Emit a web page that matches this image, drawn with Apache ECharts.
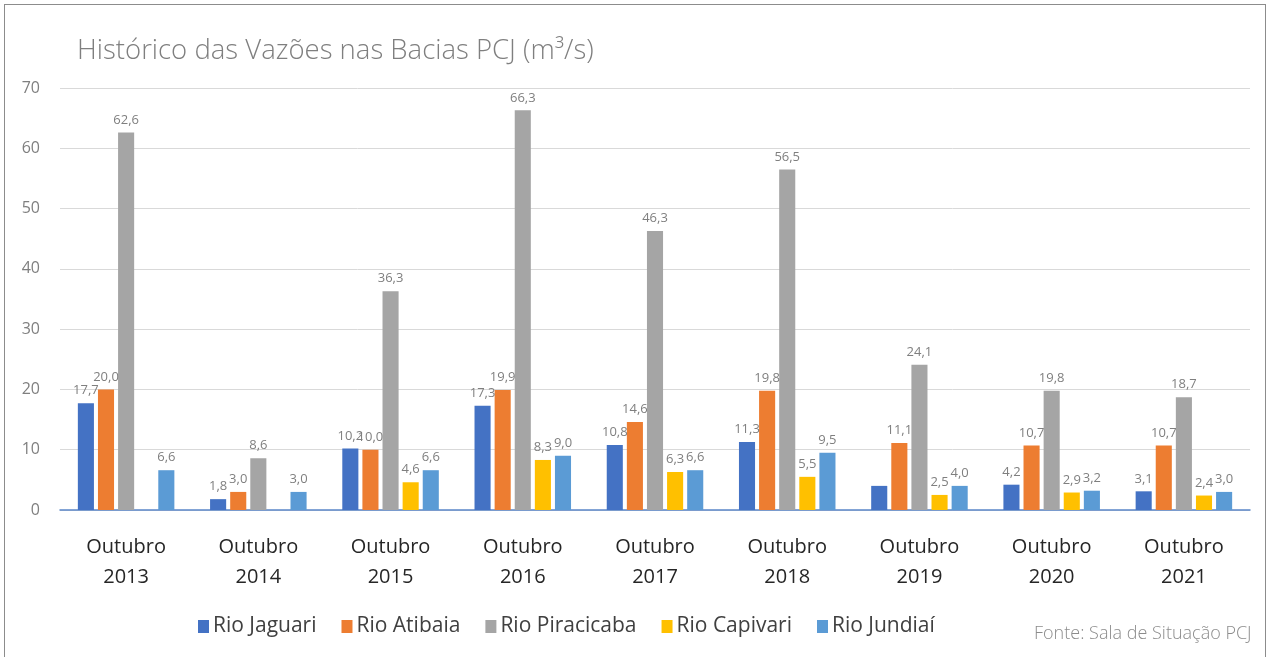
<!DOCTYPE html>
<html>
<head>
<meta charset="utf-8">
<script src="https://cdn.jsdelivr.net/npm/echarts@6/dist/echarts.min.js"></script>
<style>
  html, body { margin: 0; padding: 0; background: #fff; }
  #frame { position: absolute; left: 4px; top: 4px; width: 1262px; height: 660px; border: 1.5px solid #8c8c8c; box-sizing: border-box; }
  #chart { position: absolute; left: 0; top: 0; width: 1272px; height: 657px; }
</style>
</head>
<body>
<div id="frame"></div>
<div id="chart"></div>
<script>
const categories = ['Outubro\n2013', 'Outubro\n2014', 'Outubro\n2015', 'Outubro\n2016', 'Outubro\n2017',
  'Outubro\n2018', 'Outubro\n2019', 'Outubro\n2020', 'Outubro\n2021']
const jaguari = [17.7, 1.8, 10.2, 17.3, 10.8, 11.3, 4.0, 4.2, 3.1]
const atibaia = [20.0, 3.0, 10.0, 19.9, 14.6, 19.8, 11.1, 10.7, 10.7]
const piracicaba = [62.6, 8.6, 36.3, 66.3, 46.3, 56.5, 24.1, 19.8, 18.7]
const capivari = [null, null, 4.6, 8.3, 6.3, 5.5, 2.5, 2.9, 2.4]
const jundiai = [6.6, 3.0, 6.6, 9.0, 6.6, 9.5, 4.0, 3.2, 3.0]
// 2019 Jaguari has no label in the original
const hiddenLabels = { 'Rio Jaguari': [6] }

const font = '"Open Sans", "Noto Sans", sans-serif'

function makeSeries(name, data, color) {
  const hide = hiddenLabels[name] || []
  return {
    name: name,
    type: 'bar',
    data: data.map((v, i) => hide.indexOf(i) >= 0 ? { value: v, label: { show: false } } : v),
    itemStyle: { color: color },
    barGap: '25%',
    barCategoryGap: '27%',
    label: {
      show: true,
      position: 'top',
      distance: 6,
      color: '#7f7f7f',
      fontFamily: font,
      fontSize: 13,
      formatter: p => p.value == null ? '' : p.value.toFixed(1).replace('.', ',')
    }
  }
}

const chart = echarts.init(document.getElementById('chart'))
chart.setOption({
  animation: false,
  title: [{
    text: 'Histórico das Vazões nas Bacias PCJ (m³/s)',
    left: 72,
    top: 32,
    textStyle: { fontFamily: font, fontWeight: 300, fontSize: 27.5, color: '#7f7f7f' }
  }, {
    text: 'Fonte: Sala de Situação PCJ',
    left: 1029,
    top: 620,
    textStyle: { fontFamily: font, fontWeight: 300, fontSize: 18, color: '#8c8c8c' }
  }],
  legend: {
    left: 193,
    top: 611,
    itemWidth: 11,
    itemHeight: 13,
    itemGap: 25,
    icon: 'rect',
    textStyle: { fontFamily: font, fontSize: 21, color: '#404040', padding: [0, 0, 0, -1] }
  },
  grid: { left: 60, right: 22, top: 88, bottom: 147 },
  xAxis: {
    type: 'category',
    data: categories,
    axisLine: { lineStyle: { color: '#5b87c9', width: 1.5 } },
    axisTick: { inside: true, length: 8, lineStyle: { color: '#5b87c9' } },
    axisLabel: { fontFamily: font, fontSize: 20, color: '#262626', lineHeight: 30, margin: 22 }
  },
  yAxis: {
    type: 'value',
    min: 0,
    max: 70,
    interval: 10,
    axisLine: { show: false },
    axisTick: { show: false },
    splitLine: { lineStyle: { color: '#d9d9d9', width: 1 } },
    axisLabel: { fontFamily: font, fontSize: 16, color: '#7f7f7f', margin: 20 }
  },
  series: [
    makeSeries('Rio Jaguari', jaguari, '#4472C4'),
    makeSeries('Rio Atibaia', atibaia, '#ED7D31'),
    makeSeries('Rio Piracicaba', piracicaba, '#A5A5A5'),
    makeSeries('Rio Capivari', capivari, '#FFC000'),
    makeSeries('Rio Jundiaí', jundiai, '#5B9BD5')
  ]
})
</script>
</body>
</html>
